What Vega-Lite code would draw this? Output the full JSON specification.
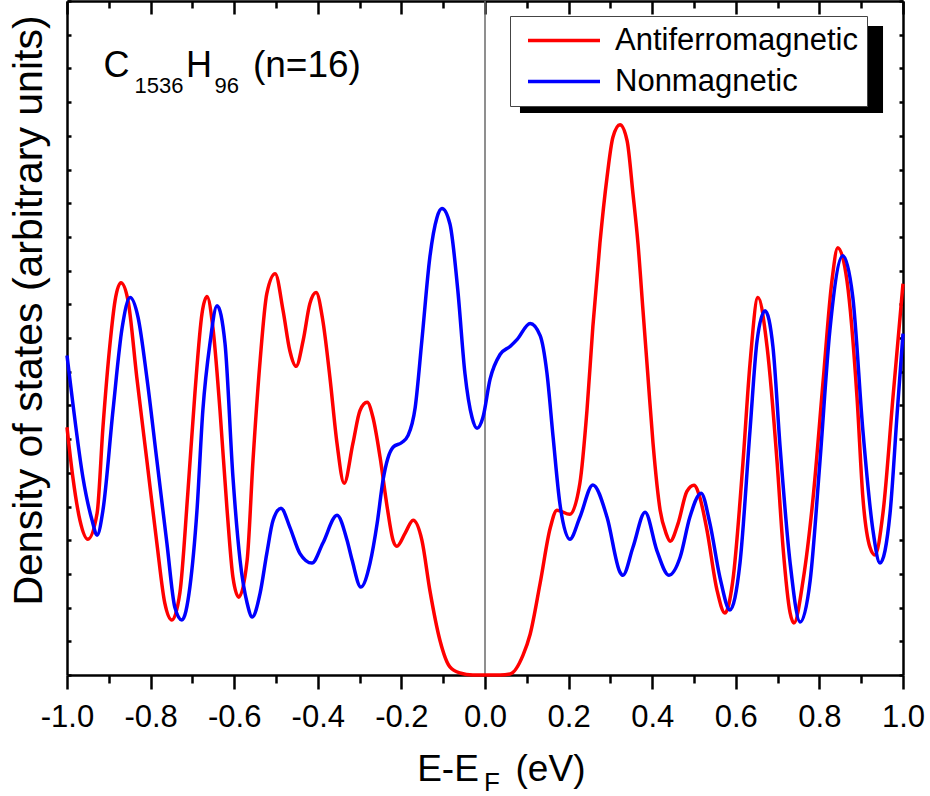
{
  "$schema": "https://vega.github.io/schema/vega-lite/v6.json",
  "width": 836,
  "height": 674,
  "autosize": {"type": "none"},
  "padding": {"left": 67, "top": 1, "right": 27, "bottom": 121},
  "background": "white",
  "config": {
    "font": "Liberation Sans",
    "view": {"stroke": null},
    "axis": {
      "grid": false,
      "ticks": true,
      "domainColor": "black",
      "domainWidth": 2.5,
      "tickColor": "black",
      "tickOpacity": 1,
      "tickWidth": 2.5,
      "labelColor": "black",
      "titleColor": "black"
    }
  },
  "data": {
    "values": [
      {"E": -1.000, "DOS": 7.35, "series": "Antiferromagnetic"},
      {"E": -0.986, "DOS": 5.87, "series": "Antiferromagnetic"},
      {"E": -0.969, "DOS": 4.59, "series": "Antiferromagnetic"},
      {"E": -0.950, "DOS": 4.03, "series": "Antiferromagnetic"},
      {"E": -0.928, "DOS": 4.80, "series": "Antiferromagnetic"},
      {"E": -0.914, "DOS": 7.35, "series": "Antiferromagnetic"},
      {"E": -0.897, "DOS": 9.84, "series": "Antiferromagnetic"},
      {"E": -0.885, "DOS": 11.11, "series": "Antiferromagnetic"},
      {"E": -0.871, "DOS": 11.64, "series": "Antiferromagnetic"},
      {"E": -0.854, "DOS": 11.11, "series": "Antiferromagnetic"},
      {"E": -0.833, "DOS": 8.83, "series": "Antiferromagnetic"},
      {"E": -0.809, "DOS": 6.37, "series": "Antiferromagnetic"},
      {"E": -0.785, "DOS": 3.91, "series": "Antiferromagnetic"},
      {"E": -0.766, "DOS": 2.13, "series": "Antiferromagnetic"},
      {"E": -0.749, "DOS": 1.63, "series": "Antiferromagnetic"},
      {"E": -0.730, "DOS": 2.43, "series": "Antiferromagnetic"},
      {"E": -0.711, "DOS": 5.39, "series": "Antiferromagnetic"},
      {"E": -0.694, "DOS": 8.36, "series": "Antiferromagnetic"},
      {"E": -0.677, "DOS": 10.73, "series": "Antiferromagnetic"},
      {"E": -0.665, "DOS": 11.23, "series": "Antiferromagnetic"},
      {"E": -0.651, "DOS": 10.31, "series": "Antiferromagnetic"},
      {"E": -0.634, "DOS": 7.85, "series": "Antiferromagnetic"},
      {"E": -0.617, "DOS": 4.89, "series": "Antiferromagnetic"},
      {"E": -0.603, "DOS": 2.90, "series": "Antiferromagnetic"},
      {"E": -0.589, "DOS": 2.31, "series": "Antiferromagnetic"},
      {"E": -0.569, "DOS": 3.41, "series": "Antiferromagnetic"},
      {"E": -0.555, "DOS": 6.37, "series": "Antiferromagnetic"},
      {"E": -0.538, "DOS": 9.33, "series": "Antiferromagnetic"},
      {"E": -0.522, "DOS": 11.32, "series": "Antiferromagnetic"},
      {"E": -0.502, "DOS": 11.91, "series": "Antiferromagnetic"},
      {"E": -0.483, "DOS": 10.81, "series": "Antiferromagnetic"},
      {"E": -0.467, "DOS": 9.63, "series": "Antiferromagnetic"},
      {"E": -0.452, "DOS": 9.16, "series": "Antiferromagnetic"},
      {"E": -0.435, "DOS": 9.93, "series": "Antiferromagnetic"},
      {"E": -0.419, "DOS": 11.02, "series": "Antiferromagnetic"},
      {"E": -0.404, "DOS": 11.35, "series": "Antiferromagnetic"},
      {"E": -0.388, "DOS": 10.52, "series": "Antiferromagnetic"},
      {"E": -0.371, "DOS": 8.83, "series": "Antiferromagnetic"},
      {"E": -0.354, "DOS": 6.87, "series": "Antiferromagnetic"},
      {"E": -0.337, "DOS": 5.69, "series": "Antiferromagnetic"},
      {"E": -0.316, "DOS": 6.87, "series": "Antiferromagnetic"},
      {"E": -0.299, "DOS": 7.85, "series": "Antiferromagnetic"},
      {"E": -0.282, "DOS": 8.09, "series": "Antiferromagnetic"},
      {"E": -0.268, "DOS": 7.64, "series": "Antiferromagnetic"},
      {"E": -0.251, "DOS": 6.46, "series": "Antiferromagnetic"},
      {"E": -0.234, "DOS": 4.98, "series": "Antiferromagnetic"},
      {"E": -0.220, "DOS": 4.00, "series": "Antiferromagnetic"},
      {"E": -0.211, "DOS": 3.82, "series": "Antiferromagnetic"},
      {"E": -0.191, "DOS": 4.21, "series": "Antiferromagnetic"},
      {"E": -0.172, "DOS": 4.59, "series": "Antiferromagnetic"},
      {"E": -0.151, "DOS": 4.00, "series": "Antiferromagnetic"},
      {"E": -0.132, "DOS": 2.52, "series": "Antiferromagnetic"},
      {"E": -0.108, "DOS": 1.04, "series": "Antiferromagnetic"},
      {"E": -0.084, "DOS": 0.24, "series": "Antiferromagnetic"},
      {"E": -0.060, "DOS": 0.06, "series": "Antiferromagnetic"},
      {"E": -0.029, "DOS": 0.0, "series": "Antiferromagnetic"},
      {"E": 0.000, "DOS": 0.0, "series": "Antiferromagnetic"},
      {"E": 0.036, "DOS": 0.0, "series": "Antiferromagnetic"},
      {"E": 0.060, "DOS": 0.03, "series": "Antiferromagnetic"},
      {"E": 0.091, "DOS": 0.59, "series": "Antiferromagnetic"},
      {"E": 0.108, "DOS": 1.21, "series": "Antiferromagnetic"},
      {"E": 0.132, "DOS": 2.73, "series": "Antiferromagnetic"},
      {"E": 0.156, "DOS": 4.36, "series": "Antiferromagnetic"},
      {"E": 0.172, "DOS": 4.89, "series": "Antiferromagnetic"},
      {"E": 0.203, "DOS": 4.77, "series": "Antiferromagnetic"},
      {"E": 0.227, "DOS": 5.69, "series": "Antiferromagnetic"},
      {"E": 0.244, "DOS": 7.86, "series": "Antiferromagnetic"},
      {"E": 0.258, "DOS": 10.33, "series": "Antiferromagnetic"},
      {"E": 0.275, "DOS": 12.82, "series": "Antiferromagnetic"},
      {"E": 0.292, "DOS": 14.78, "series": "Antiferromagnetic"},
      {"E": 0.306, "DOS": 15.96, "series": "Antiferromagnetic"},
      {"E": 0.323, "DOS": 16.33, "series": "Antiferromagnetic"},
      {"E": 0.340, "DOS": 15.85, "series": "Antiferromagnetic"},
      {"E": 0.354, "DOS": 14.28, "series": "Antiferromagnetic"},
      {"E": 0.366, "DOS": 12.80, "series": "Antiferromagnetic"},
      {"E": 0.378, "DOS": 10.81, "series": "Antiferromagnetic"},
      {"E": 0.390, "DOS": 8.83, "series": "Antiferromagnetic"},
      {"E": 0.402, "DOS": 6.87, "series": "Antiferromagnetic"},
      {"E": 0.419, "DOS": 4.89, "series": "Antiferromagnetic"},
      {"E": 0.433, "DOS": 4.21, "series": "Antiferromagnetic"},
      {"E": 0.443, "DOS": 3.97, "series": "Antiferromagnetic"},
      {"E": 0.462, "DOS": 4.50, "series": "Antiferromagnetic"},
      {"E": 0.483, "DOS": 5.45, "series": "Antiferromagnetic"},
      {"E": 0.500, "DOS": 5.63, "series": "Antiferromagnetic"},
      {"E": 0.514, "DOS": 5.27, "series": "Antiferromagnetic"},
      {"E": 0.531, "DOS": 4.30, "series": "Antiferromagnetic"},
      {"E": 0.555, "DOS": 2.52, "series": "Antiferromagnetic"},
      {"E": 0.574, "DOS": 1.84, "series": "Antiferromagnetic"},
      {"E": 0.593, "DOS": 2.81, "series": "Antiferromagnetic"},
      {"E": 0.617, "DOS": 6.28, "series": "Antiferromagnetic"},
      {"E": 0.634, "DOS": 9.24, "series": "Antiferromagnetic"},
      {"E": 0.653, "DOS": 11.20, "series": "Antiferromagnetic"},
      {"E": 0.675, "DOS": 9.72, "series": "Antiferromagnetic"},
      {"E": 0.699, "DOS": 6.28, "series": "Antiferromagnetic"},
      {"E": 0.713, "DOS": 3.79, "series": "Antiferromagnetic"},
      {"E": 0.730, "DOS": 1.84, "series": "Antiferromagnetic"},
      {"E": 0.739, "DOS": 1.54, "series": "Antiferromagnetic"},
      {"E": 0.761, "DOS": 2.81, "series": "Antiferromagnetic"},
      {"E": 0.785, "DOS": 5.27, "series": "Antiferromagnetic"},
      {"E": 0.809, "DOS": 8.74, "series": "Antiferromagnetic"},
      {"E": 0.830, "DOS": 11.70, "series": "Antiferromagnetic"},
      {"E": 0.844, "DOS": 12.68, "series": "Antiferromagnetic"},
      {"E": 0.866, "DOS": 11.70, "series": "Antiferromagnetic"},
      {"E": 0.890, "DOS": 8.24, "series": "Antiferromagnetic"},
      {"E": 0.904, "DOS": 5.27, "series": "Antiferromagnetic"},
      {"E": 0.921, "DOS": 3.79, "series": "Antiferromagnetic"},
      {"E": 0.933, "DOS": 3.56, "series": "Antiferromagnetic"},
      {"E": 0.952, "DOS": 4.80, "series": "Antiferromagnetic"},
      {"E": 0.976, "DOS": 8.24, "series": "Antiferromagnetic"},
      {"E": 1.000, "DOS": 11.61, "series": "Antiferromagnetic"},

      {"E": -1.000, "DOS": 9.48, "series": "Nonmagnetic"},
      {"E": -0.986, "DOS": 8.06, "series": "Nonmagnetic"},
      {"E": -0.962, "DOS": 5.87, "series": "Nonmagnetic"},
      {"E": -0.940, "DOS": 4.59, "series": "Nonmagnetic"},
      {"E": -0.928, "DOS": 4.15, "series": "Nonmagnetic"},
      {"E": -0.914, "DOS": 4.89, "series": "Nonmagnetic"},
      {"E": -0.890, "DOS": 7.85, "series": "Nonmagnetic"},
      {"E": -0.868, "DOS": 10.31, "series": "Nonmagnetic"},
      {"E": -0.849, "DOS": 11.20, "series": "Nonmagnetic"},
      {"E": -0.830, "DOS": 10.61, "series": "Nonmagnetic"},
      {"E": -0.809, "DOS": 8.83, "series": "Nonmagnetic"},
      {"E": -0.785, "DOS": 6.37, "series": "Nonmagnetic"},
      {"E": -0.761, "DOS": 3.91, "series": "Nonmagnetic"},
      {"E": -0.742, "DOS": 2.01, "series": "Nonmagnetic"},
      {"E": -0.725, "DOS": 1.63, "series": "Nonmagnetic"},
      {"E": -0.706, "DOS": 2.61, "series": "Nonmagnetic"},
      {"E": -0.689, "DOS": 4.89, "series": "Nonmagnetic"},
      {"E": -0.675, "DOS": 7.85, "series": "Nonmagnetic"},
      {"E": -0.658, "DOS": 9.84, "series": "Nonmagnetic"},
      {"E": -0.641, "DOS": 10.96, "series": "Nonmagnetic"},
      {"E": -0.622, "DOS": 9.84, "series": "Nonmagnetic"},
      {"E": -0.603, "DOS": 5.87, "series": "Nonmagnetic"},
      {"E": -0.586, "DOS": 3.41, "series": "Nonmagnetic"},
      {"E": -0.569, "DOS": 2.13, "series": "Nonmagnetic"},
      {"E": -0.557, "DOS": 1.72, "series": "Nonmagnetic"},
      {"E": -0.538, "DOS": 2.43, "series": "Nonmagnetic"},
      {"E": -0.522, "DOS": 3.61, "series": "Nonmagnetic"},
      {"E": -0.507, "DOS": 4.59, "series": "Nonmagnetic"},
      {"E": -0.488, "DOS": 4.95, "series": "Nonmagnetic"},
      {"E": -0.467, "DOS": 4.39, "series": "Nonmagnetic"},
      {"E": -0.443, "DOS": 3.61, "series": "Nonmagnetic"},
      {"E": -0.414, "DOS": 3.32, "series": "Nonmagnetic"},
      {"E": -0.388, "DOS": 3.91, "series": "Nonmagnetic"},
      {"E": -0.354, "DOS": 4.74, "series": "Nonmagnetic"},
      {"E": -0.330, "DOS": 4.00, "series": "Nonmagnetic"},
      {"E": -0.318, "DOS": 3.41, "series": "Nonmagnetic"},
      {"E": -0.297, "DOS": 2.61, "series": "Nonmagnetic"},
      {"E": -0.275, "DOS": 3.32, "series": "Nonmagnetic"},
      {"E": -0.258, "DOS": 4.50, "series": "Nonmagnetic"},
      {"E": -0.244, "DOS": 5.78, "series": "Nonmagnetic"},
      {"E": -0.220, "DOS": 6.76, "series": "Nonmagnetic"},
      {"E": -0.199, "DOS": 6.90, "series": "Nonmagnetic"},
      {"E": -0.184, "DOS": 7.11, "series": "Nonmagnetic"},
      {"E": -0.167, "DOS": 7.94, "series": "Nonmagnetic"},
      {"E": -0.151, "DOS": 9.93, "series": "Nonmagnetic"},
      {"E": -0.132, "DOS": 12.39, "series": "Nonmagnetic"},
      {"E": -0.115, "DOS": 13.57, "series": "Nonmagnetic"},
      {"E": -0.103, "DOS": 13.84, "series": "Nonmagnetic"},
      {"E": -0.084, "DOS": 13.39, "series": "Nonmagnetic"},
      {"E": -0.065, "DOS": 11.41, "series": "Nonmagnetic"},
      {"E": -0.048, "DOS": 8.95, "series": "Nonmagnetic"},
      {"E": -0.031, "DOS": 7.64, "series": "Nonmagnetic"},
      {"E": -0.019, "DOS": 7.32, "series": "Nonmagnetic"},
      {"E": -0.005, "DOS": 7.64, "series": "Nonmagnetic"},
      {"E": 0.012, "DOS": 8.77, "series": "Nonmagnetic"},
      {"E": 0.036, "DOS": 9.51, "series": "Nonmagnetic"},
      {"E": 0.060, "DOS": 9.75, "series": "Nonmagnetic"},
      {"E": 0.077, "DOS": 9.96, "series": "Nonmagnetic"},
      {"E": 0.108, "DOS": 10.43, "series": "Nonmagnetic"},
      {"E": 0.132, "DOS": 10.07, "series": "Nonmagnetic"},
      {"E": 0.148, "DOS": 8.98, "series": "Nonmagnetic"},
      {"E": 0.163, "DOS": 7.05, "series": "Nonmagnetic"},
      {"E": 0.179, "DOS": 5.10, "series": "Nonmagnetic"},
      {"E": 0.203, "DOS": 4.03, "series": "Nonmagnetic"},
      {"E": 0.227, "DOS": 4.68, "series": "Nonmagnetic"},
      {"E": 0.258, "DOS": 5.64, "series": "Nonmagnetic"},
      {"E": 0.292, "DOS": 4.68, "series": "Nonmagnetic"},
      {"E": 0.323, "DOS": 3.05, "series": "Nonmagnetic"},
      {"E": 0.330, "DOS": 2.96, "series": "Nonmagnetic"},
      {"E": 0.354, "DOS": 3.79, "series": "Nonmagnetic"},
      {"E": 0.383, "DOS": 4.83, "series": "Nonmagnetic"},
      {"E": 0.411, "DOS": 3.70, "series": "Nonmagnetic"},
      {"E": 0.440, "DOS": 2.96, "series": "Nonmagnetic"},
      {"E": 0.467, "DOS": 3.50, "series": "Nonmagnetic"},
      {"E": 0.490, "DOS": 4.68, "series": "Nonmagnetic"},
      {"E": 0.517, "DOS": 5.39, "series": "Nonmagnetic"},
      {"E": 0.538, "DOS": 4.50, "series": "Nonmagnetic"},
      {"E": 0.562, "DOS": 2.90, "series": "Nonmagnetic"},
      {"E": 0.586, "DOS": 1.93, "series": "Nonmagnetic"},
      {"E": 0.610, "DOS": 3.32, "series": "Nonmagnetic"},
      {"E": 0.634, "DOS": 7.26, "series": "Nonmagnetic"},
      {"E": 0.651, "DOS": 9.93, "series": "Nonmagnetic"},
      {"E": 0.670, "DOS": 10.81, "series": "Nonmagnetic"},
      {"E": 0.689, "DOS": 9.72, "series": "Nonmagnetic"},
      {"E": 0.706, "DOS": 6.76, "series": "Nonmagnetic"},
      {"E": 0.730, "DOS": 3.32, "series": "Nonmagnetic"},
      {"E": 0.754, "DOS": 1.57, "series": "Nonmagnetic"},
      {"E": 0.778, "DOS": 2.81, "series": "Nonmagnetic"},
      {"E": 0.801, "DOS": 6.28, "series": "Nonmagnetic"},
      {"E": 0.825, "DOS": 10.22, "series": "Nonmagnetic"},
      {"E": 0.856, "DOS": 12.44, "series": "Nonmagnetic"},
      {"E": 0.880, "DOS": 11.20, "series": "Nonmagnetic"},
      {"E": 0.904, "DOS": 7.26, "series": "Nonmagnetic"},
      {"E": 0.928, "DOS": 4.30, "series": "Nonmagnetic"},
      {"E": 0.945, "DOS": 3.32, "series": "Nonmagnetic"},
      {"E": 0.969, "DOS": 4.80, "series": "Nonmagnetic"},
      {"E": 0.986, "DOS": 7.76, "series": "Nonmagnetic"},
      {"E": 1.000, "DOS": 10.13, "series": "Nonmagnetic"}
    ]
  },
  "resolve": {"axis": {"x": "independent", "y": "independent"}},
  "layer": [
    {
      "data": {"values": [{}]},
      "mark": {"type": "rule", "color": "#6a6a6a", "strokeWidth": 1.5},
      "encoding": {
        "x": {
          "datum": 0,
          "type": "quantitative",
          "axis": {
            "orient": "top",
            "values": [-1, -0.8, -0.6, -0.4, -0.2, 0, 0.2, 0.4, 0.6, 0.8, 1],
            "labels": false,
            "title": null,
            "tickSize": -13
          }
        }
      }
    },
    {
      "data": {"values": [{}]},
      "mark": {"type": "rect", "color": "black"},
      "encoding": {
        "x": {
          "datum": 0.0837,
          "type": "quantitative",
          "axis": {
            "orient": "bottom",
            "values": [-0.9, -0.7, -0.5, -0.3, -0.1, 0.1, 0.3, 0.5, 0.7, 0.9],
            "labels": false,
            "domain": false,
            "title": null,
            "tickSize": 8
          }
        },
        "x2": {"datum": 0.9522},
        "y": {
          "datum": 19.258,
          "type": "quantitative",
          "axis": {
            "orient": "right",
            "values": [0, 1, 2, 3, 4, 5, 6, 7, 8, 9, 10, 11, 12, 13, 14, 15, 16, 17, 18, 19, 20],
            "labels": false,
            "title": null,
            "tickSize": -4
          }
        },
        "y2": {"datum": 16.677}
      }
    },
    {
      "mark": {"type": "line", "interpolate": "monotone", "strokeWidth": 3.5},
      "encoding": {
        "x": {
          "field": "E",
          "type": "quantitative",
          "scale": {"domain": [-1, 1], "nice": false, "zero": false},
          "axis": {
            "orient": "bottom",
            "values": [-1, -0.8, -0.6, -0.4, -0.2, 0, 0.2, 0.4, 0.6, 0.8, 1],
            "title": null,
            "labelExpr": "replace(format(datum.value, '.1f'), '\u2212', '-')",
            "labelFontSize": 31,
            "labelPadding": 13,
            "labelFlush": false,
            "labelOverlap": false,
            "tickSize": 14
          }
        },
        "y": {
          "field": "DOS",
          "type": "quantitative",
          "scale": {"domain": [0, 20], "nice": false, "zero": false},
          "axis": {
            "orient": "left",
            "values": [0, 1, 2, 3, 4, 5, 6, 7, 8, 9, 10, 11, 12, 13, 14, 15, 16, 17, 18, 19, 20],
            "labels": false,
            "tickSize": -4,
            "title": "Density of states (arbitrary units)",
            "titleFontSize": 41,
            "titleFontWeight": "normal",
            "titleAngle": -90,
            "titleAlign": "center",
            "titleBaseline": "alphabetic",
            "titleX": -26,
            "titleY": 309
          }
        },
        "color": {
          "field": "series",
          "type": "nominal",
          "scale": {"domain": ["Antiferromagnetic", "Nonmagnetic"], "range": ["#ff0000", "#0000ff"]},
          "legend": {
            "title": null,
            "orient": "none",
            "legendX": 443,
            "legendY": 15,
            "symbolType": "stroke",
            "symbolSize": 5184,
            "symbolStrokeWidth": 3.5,
            "clipHeight": 31,
            "labelFontSize": 31,
            "labelLimit": 400,
            "labelColor": "black",
            "labelOffset": 13,
            "symbolOffset": 7,
            "padding": 9,
            "rowPadding": 9,
            "fillColor": "white",
            "strokeColor": "#444444",
            "cornerRadius": 0
          }
        }
      }
    },
    {
      "data": {"values": [{}]},
      "mark": {"type": "text", "text": "C", "fontSize": 36, "align": "center", "baseline": "alphabetic", "color": "black"},
      "encoding": {
        "x": {
          "datum": -0.8816,
          "type": "quantitative",
          "axis": {
            "orient": "top",
            "values": [-0.9, -0.7, -0.5, -0.3, -0.1, 0.1, 0.3, 0.5, 0.7, 0.9],
            "labels": false,
            "domain": false,
            "title": null,
            "tickSize": -7
          }
        },
        "y": {"datum": 17.745, "type": "quantitative", "axis": null}
      }
    },
    {
      "data": {"values": [{}]},
      "mark": {"type": "text", "text": "1536", "fontSize": 22, "align": "center", "baseline": "alphabetic", "color": "black"},
      "encoding": {
        "x": {"datum": -0.780, "type": "quantitative", "axis": null},
        "y": {"datum": 17.27, "type": "quantitative", "axis": null}
      }
    },
    {
      "data": {"values": [{}]},
      "mark": {"type": "text", "text": "H", "fontSize": 36, "align": "center", "baseline": "alphabetic", "color": "black"},
      "encoding": {
        "x": {"datum": -0.684, "type": "quantitative", "axis": null},
        "y": {"datum": 17.745, "type": "quantitative", "axis": null}
      }
    },
    {
      "data": {"values": [{}]},
      "mark": {"type": "text", "text": "96", "fontSize": 22, "align": "center", "baseline": "alphabetic", "color": "black"},
      "encoding": {
        "x": {"datum": -0.618, "type": "quantitative", "axis": null},
        "y": {"datum": 17.27, "type": "quantitative", "axis": null}
      }
    },
    {
      "data": {"values": [{}]},
      "mark": {"type": "text", "text": "(n=16)", "fontSize": 37, "align": "center", "baseline": "alphabetic", "color": "black"},
      "encoding": {
        "x": {"datum": -0.426, "type": "quantitative", "axis": null},
        "y": {"datum": 17.745, "type": "quantitative", "axis": null}
      }
    },
    {
      "data": {"values": [{}]},
      "mark": {"type": "text", "text": "E-E", "fontSize": 37, "align": "center", "baseline": "alphabetic", "color": "black"},
      "encoding": {
        "x": {"datum": -0.0885, "type": "quantitative", "axis": null},
        "y": {"datum": -3.145, "type": "quantitative", "axis": null}
      }
    },
    {
      "data": {"values": [{}]},
      "mark": {"type": "text", "text": "F", "fontSize": 26, "align": "center", "baseline": "alphabetic", "color": "black"},
      "encoding": {
        "x": {"datum": 0.0167, "type": "quantitative", "axis": null},
        "y": {"datum": -3.44, "type": "quantitative", "axis": null}
      }
    },
    {
      "data": {"values": [{}]},
      "mark": {"type": "text", "text": "(eV)", "fontSize": 37, "align": "center", "baseline": "alphabetic", "color": "black"},
      "encoding": {
        "x": {"datum": 0.1567, "type": "quantitative", "axis": null},
        "y": {"datum": -3.145, "type": "quantitative", "axis": null}
      }
    }
  ]
}
